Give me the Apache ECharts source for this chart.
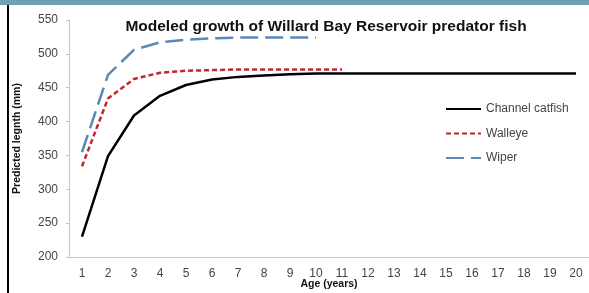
<!DOCTYPE html>
<html lang="en">
<head>
    <meta charset="UTF-8">
    <title>Willard Bay growth</title>
    <script type="text/javascript" src="https://cdn.jsdelivr.net/npm/echarts@6/dist/echarts.min.js"></script>
    <style>
        html, body { margin: 0; padding: 0; background: #fff; }
    </style>
</head>
<body>
<div id="chart1" style="width:589px;height:293px"></div>
<script type="text/javascript">
    // data
    var ages = ['1', '2', '3', '4', '5', '6', '7', '8', '9', '10', '11', '12', '13', '14', '15', '16', '17', '18', '19', '20'];
    var catfish = [230, 349, 409, 438, 454, 462, 466, 468, 470, 471, 471, 471, 471, 471, 471, 471, 471, 471, 471, 471];
    var walleye = [334, 434, 463, 472, 475, 476, 477, 477, 477, 477, 477];
    var wiper = [355, 469, 506, 517, 521, 523, 524, 524, 524, 524];

    var font = '"Liberation Sans", Arial, sans-serif';
    var myChart = echarts.init(document.getElementById('chart1'));
    var option = {
        animation: false,
        title: {
            text: 'Modeled growth of Willard Bay Reservoir predator fish',
            left: 321,
            textAlign: 'center',
            top: 14,
            textStyle: {fontFamily: font, fontSize: 15.5, fontWeight: 'bold', color: '#111'}
        },
        legend: {
            orient: 'vertical',
            left: 440,
            top: 98,
            itemWidth: 35,
            itemHeight: 14,
            itemGap: 12.5,
            itemStyle: {opacity: 0},
            textStyle: {fontFamily: font, fontSize: 12, color: '#444'},
            data: ['Channel catfish', 'Walleye', 'Wiper']
        },
        grid: {left: 69, right: 0, top: 20, bottom: 36, outerBoundsMode: 'none'},
        xAxis: {
            type: 'category',
            data: ages,
            boundaryGap: true,
            name: 'Age (years)',
            nameLocation: 'middle',
            nameGap: 22,
            nameMoveOverlap: false,
            nameTextStyle: {fontFamily: font, fontSize: 10.5, fontWeight: 'bold', color: '#111'},
            axisLine: {lineStyle: {color: '#c4c4c4'}},
            axisTick: {length: 4, lineStyle: {color: '#c4c4c4'}},
            axisLabel: {margin: 11, fontFamily: font, fontSize: 12, color: '#444'}
        },
        yAxis: {
            type: 'value',
            min: 200,
            max: 550,
            interval: 50,
            name: 'Predicted legnth (mm)',
            nameLocation: 'middle',
            nameGap: 46,
            nameMoveOverlap: false,
            nameTextStyle: {fontFamily: font, fontSize: 10.5, fontWeight: 'bold', color: '#111'},
            splitLine: {show: false},
            axisLine: {show: true, lineStyle: {color: '#c4c4c4'}},
            axisTick: {show: true, length: 3, lineStyle: {color: '#c4c4c4'}},
            axisLabel: {margin: 11, fontFamily: font, fontSize: 12, color: '#444'}
        },
        series: [
            {
                name: 'Channel catfish',
                type: 'line',
                data: catfish,
                symbol: 'none',
                itemStyle: {color: '#000'},
                lineStyle: {color: '#000', width: 2.5}
            }, {
                name: 'Walleye',
                type: 'line',
                data: walleye,
                symbol: 'none',
                itemStyle: {color: '#c0282d'},
                lineStyle: {color: '#c0282d', width: 2.5, type: [5, 3]}
            }, {
                name: 'Wiper',
                type: 'line',
                data: wiper,
                symbol: 'none',
                itemStyle: {color: '#5b88b9'},
                lineStyle: {color: '#5b88b9', width: 2.5, type: [18, 7]}
            }
        ],
        graphic: [
            {type: 'rect', shape: {x: 7, y: 0, width: 2, height: 293}, style: {fill: '#000'}},
            {type: 'rect', shape: {x: 0, y: 0, width: 589, height: 5}, style: {fill: '#6fa0b4'}}
        ]
    };
    myChart.setOption(option);
</script>
</body>
</html>
